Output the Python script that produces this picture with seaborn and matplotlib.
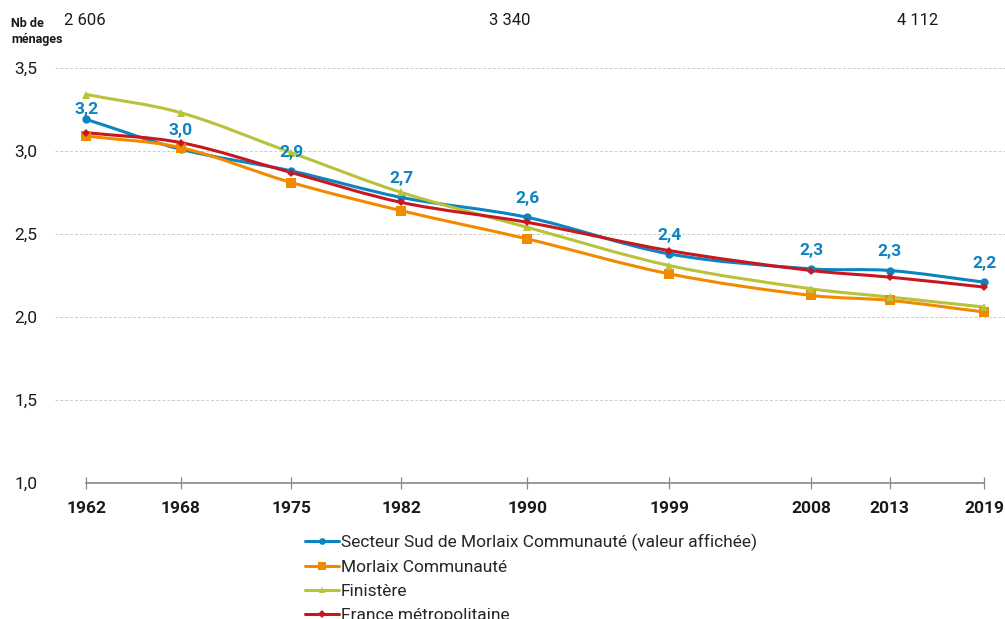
import numpy as np
import pandas as pd
import seaborn as sns
import matplotlib.pyplot as plt
from matplotlib.path import Path
from matplotlib.patches import PathPatch
from matplotlib.lines import Line2D
from matplotlib.ticker import FuncFormatter

# -----------------------------
# données
# -----------------------------
annees = [1962, 1968, 1975, 1982, 1990, 1999, 2008, 2013, 2019]
secteur_sud = [3.19, 3.01, 2.88, 2.72, 2.60, 2.38, 2.29, 2.28, 2.21]
morlaix_co = [3.09, 3.02, 2.81, 2.64, 2.47, 2.26, 2.13, 2.10, 2.03]
finistere = [3.34, 3.23, 2.99, 2.75, 2.54, 2.31, 2.17, 2.12, 2.06]
france = [3.11, 3.05, 2.87, 2.69, 2.57, 2.40, 2.28, 2.24, 2.18]
etiquettes = ["3,2", "3,0", "2,9", "2,7", "2,6", "2,4", "2,3", "2,3", "2,2"]

nb_menages = ["2 606", "3 340", "4 112"]
nb_menages_x = [1961.9, 1988.9, 2014.8]

series = ["Secteur Sud de Morlaix Communauté (valeur affichée)",
          "Morlaix Communauté", "Finistère", "France métropolitaine"]
couleurs = ["#0b84c1", "#f28a00", "#b8c23a", "#c8171e"]
marqueurs = ["o", "s", "^", "D"]
tailles = [6, 7, 6, 4.5]

df = pd.DataFrame({
    "annee": annees * 4,
    "valeur": secteur_sud + morlaix_co + finistere + france,
    "serie": [s for s in series for _ in annees],
})

# -----------------------------
# figure
# -----------------------------
sns.set_theme(style="white")
plt.rcParams['font.family'] = ['Roboto', 'DejaVu Sans']

fig = plt.figure(figsize=(10.05, 6.19), dpi=100)
ax = fig.add_axes([0.0547, 0.2197, 0.945, 0.6705])


def courbe_lisse(x, y):
    # courbe de Hermite (style "lissage" Excel) en coordonnées données
    x = np.asarray(x, float)
    y = np.asarray(y, float)
    n = len(x)
    m = np.zeros(n)
    m[0] = (y[1] - y[0]) / (x[1] - x[0])
    m[-1] = (y[-1] - y[-2]) / (x[-1] - x[-2])
    for i in range(1, n - 1):
        m[i] = (y[i + 1] - y[i - 1]) / (x[i + 1] - x[i - 1])
    verts = [(x[0], y[0])]
    codes = [Path.MOVETO]
    for i in range(n - 1):
        dx = (x[i + 1] - x[i]) / 3
        verts += [(x[i] + dx, y[i] + dx * m[i]),
                  (x[i + 1] - dx, y[i + 1] - dx * m[i + 1]),
                  (x[i + 1], y[i + 1])]
        codes += [Path.CURVE4] * 3
    return Path(verts, codes)


for s, c, mk, ms in zip(series, couleurs, marqueurs, tailles):
    d = df[df["serie"] == s]
    ax.add_patch(PathPatch(courbe_lisse(d["annee"], d["valeur"]),
                           facecolor="none", edgecolor=c, lw=2.2,
                           clip_on=False, zorder=3))
    sns.lineplot(data=d, x="annee", y="valeur", ax=ax, color=c,
                 marker=mk, markersize=ms, markeredgewidth=0,
                 linestyle="none", clip_on=False, zorder=4, legend=False)

# étiquettes de valeur (secteur sud) - la première est plus proche du point
for i, (xa, ya, t) in enumerate(zip(annees, secteur_sud, etiquettes)):
    dy = 2 if i == 0 else 8
    ax.annotate(t, (xa, ya), xytext=(0, dy), textcoords="offset points",
                ha="center", va="bottom", color=couleurs[0],
                fontsize=12.5, fontweight="bold", zorder=5)

# axes
ax.set_xlim(1960, 2020.3)
ax.set_ylim(1.0, 3.5)
ax.set_xticks(annees)
ax.set_yticks([1.0, 1.5, 2.0, 2.5, 3.0, 3.5])
ax.yaxis.set_major_formatter(FuncFormatter(lambda v, p: f"{v:.1f}".replace(".", ",")))
ax.set_xlabel("")
ax.set_ylabel("")
ax.grid(axis="y", color="#cccccc", linestyle=(0, (3, 2)), lw=0.7)
ax.grid(axis="x", visible=False)
for sp in ["top", "right", "left"]:
    ax.spines[sp].set_visible(False)
ax.spines["bottom"].set_color("#888888")
ax.spines["bottom"].set_linewidth(1.2)
ax.spines["bottom"].set_bounds(1962, 2019)
ax.tick_params(axis="x", bottom=True, direction="inout", length=8, width=0.9,
               color="#888888", pad=9, labelsize=12.5, labelcolor="#1a1a1a")
ax.tick_params(axis="y", left=True, length=0, pad=12.5, labelsize=12.5,
               labelcolor="#1a1a1a")
for lbl in ax.get_xticklabels():
    lbl.set_fontweight("bold")

# nombre de ménages
trans = ax.get_xaxis_transform()
for xa, t in zip(nb_menages_x, nb_menages):
    ax.text(xa, 1.115, t, transform=trans, ha="center", va="center",
            fontsize=12, color="#1a1a1a")
fig.text(0.011, 0.949, "Nb de\nménages", ha="left", va="center",
         fontsize=9, fontweight="bold", linespacing=1.25, color="#1a1a1a")

# légende
handles = [Line2D([0], [0], color=c, lw=2.2, marker=mk, markersize=ms * 0.8,
                  markeredgewidth=0)
           for c, mk, ms in zip(couleurs, marqueurs, tailles)]
fig.legend(handles, series, loc="upper left", bbox_to_anchor=(0.303, 0.138),
           frameon=False, fontsize=12.5, handlelength=2.0, handletextpad=0.1,
           labelspacing=0.52, borderpad=0, borderaxespad=0)

fig.savefig("out.png", dpi=100)
